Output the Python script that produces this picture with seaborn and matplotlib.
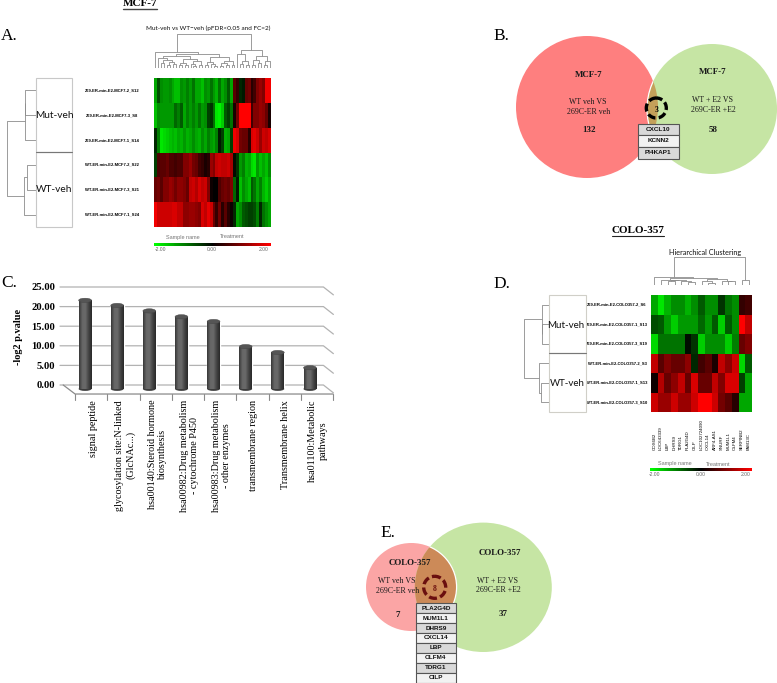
import numpy as np
import pandas as pd
import seaborn as sns
import matplotlib
matplotlib.use("Agg")
import matplotlib.pyplot as plt
from matplotlib.colors import LinearSegmentedColormap
from matplotlib.patches import Circle, Ellipse, Rectangle
from matplotlib.transforms import ScaledTranslation

W, H = 777, 683
SERIF = "Liberation Serif"
SANS = "Liberation Sans"

# panel A
rows_a = ["269-ER-min-E2-MCF7-2_S12", "269-ER-min-E2-MCF7-3_S8", "269-ER-min-E2-MCF7-1_S14",
          "WT-ER-min-E2-MCF7-2_S22", "WT-ER-min-E2-MCF7-3_S21", "WT-ER-min-E2-MCF7-1_S24"]
a1 = [-1.3, -0.6, -1.1, -1.2, -1.2, -1.1, -1.3, -1.5, -1.5, -1.1, -1.2, -1.0, -1.2, -0.9, -1.3, -1.3, -1.5, -1.1, -1.2, -0.9,
      -1.2, -1.4, -0.9, -1.3, -1.1, -0.7, -1.3, 0.7, 0.4, -0.3, -0.2, 0.8, 0.9, 0.3, 0.5, 1.0, 1.2, 1.0, 1.9, 1.9]
a2 = [-1.5, -1.1, -1.2, -1.2, -1.2, -1.2, -1.2, -0.8, -1.0, -0.7, -1.3, -1.0, -1.2, -1.0, -1.2, -0.9, -1.2, -1.1, -0.5, -0.4,
      -0.9, -1.8, -1.9, -1.6, -0.7, -0.5, -0.9, 0.2, 0.9, 2.0, 2.0, 2.0, 2.0, 0.5, 1.0, 1.0, 1.2, 1.1, 0.8, 0.2]
a3 = [-0.3, -1.0, -1.8, -1.7, -1.6, -1.5, -1.4, -1.5, -1.3, -1.4, -1.2, -1.4, -1.3, -1.1, -1.3, -1.4, -1.1, -1.3, -1.0, -1.2,
      -1.3, -1.0, -0.2, -0.5, -1.4, -1.3, -0.5, 1.9, 1.7, 0.9, 0.8, 0.8, 0.3, 1.7, 1.8, 1.6, 1.2, 1.6, 1.5, 1.7]
a4 = [-0.5, 0.6, 0.7, 0.7, 0.8, 0.6, 0.6, 0.5, 0.6, 0.6, 1.0, 1.0, 1.2, 0.9, 0.8, 0.5, 0.4, 0.2, 0.3, 1.2,
      1.0, 1.5, 1.6, 1.5, 1.5, 1.6, 1.3, -0.1, -0.4, -1.2, -1.0, -1.4, -1.3, -1.7, -1.8, -1.2, -1.5, -1.3, -1.5, -1.1]
a5 = [0.8, 0.9, 0.7, 1.0, 1.0, 1.2, 1.1, 0.9, 1.1, 1.1, 1.0, 0.8, 1.5, 1.6, 1.4, 1.7, 1.5, 1.6, 1.0, 0.1,
      0.0, 0.0, 0.6, 0.8, 0.9, 0.8, 1.0, -0.8, -0.2, -1.5, -1.1, -1.3, -1.5, -0.7, -0.9, -1.3, -1.0, -1.4, -1.6, -1.3]
a6 = [1.9, 1.6, 1.6, 1.6, 1.6, 1.6, 1.7, 1.7, 1.5, 1.5, 1.1, 1.1, 1.2, 1.2, 1.1, 1.0, 1.7, 1.5, 1.8, 1.6,
      0.8, 0.4, 0.9, 0.3, 0.7, 0.3, 0.1, -0.3, -1.3, -1.1, -0.7, -0.6, -0.5, -0.5, -0.6, -1.0, -0.3, -0.9, -1.1, -1.3]
# trees are [height, left, right], 0 is a leaf
top_tree_a = [1.0,
              [.47, 0, [.42, [.36, [.30, 0, [.24, [.14, 0, 0], [.18, [.10, 0, 0], [.12, 0, 0]]]],
                              [.26, [.16, [.08, 0, 0], [.10, 0, 0]], [.20, [.12, 0, [.06, 0, 0]], [.09, 0, 0]]]],
                        [.32, [.18, [.10, 0, 0], [.12, 0, [.05, 0, 0]]], [.22, [.14, [.07, 0, 0], [.08, 0, 0]], [.10, 0, 0]]]]],
              [.52, [.40, 0, [.22, [.12, 0, 0], [.10, 0, 0]]],
               [.36, [.24, [.10, 0, 0], [.14, 0, 0]], [.20, [.09, 0, 0], 0]]]]
left_tree_a = [1.0, [.38, [.37, 0, 0], 0], [.41, [.31, 0, 0], 0]]

# panel B and E
genes_b = ["CXCL10", "KCNN2", "PI4KAP1"]
genes_e = ["PLA2G4D", "MUM1L1", "DHRS9", "CXCL14", "LBP", "OLFM4", "TDRG1", "CILP"]

# panel C
terms_c = ["signal peptide", "glycosylation site:N-linked\n(GlcNAc...)", "hsa00140:Steroid hormone\nbiosynthesis",
           "hsa00982:Drug metabolism\n- cytochrome P450", "hsa00983:Drug metabolism\n- other enzymes",
           "transmembrane region", "Transmembrane helix", "hsa01100:Metabolic\npathways"]
values_c = [22.6, 21.3, 19.9, 18.4, 17.2, 10.8, 9.3, 5.4]
ticks_c = [0, 5, 10, 15, 20, 25]

# panel D
rows_d = ["269-ER-min-E2-COLO357-2_S6", "269-ER-min-E2-COLO357-1_S13", "269-ER-min-E2-COLO357-3_S19",
          "WT-ER-min-E2-COLO357-2_S3", "WT-ER-min-E2-COLO357-1_S13", "WT-ER-min-E2-COLO357-3_S10"]
cols_d = ["COX6B2", "LOC643339", "LBP", "DHRS9", "TDRG1", "PLA2G4D", "CILP", "LOC102724090", "CXCL14", "ARF4-AS1",
          "SNURF", "MUM1L1", "OLFM4", "SERPINB2", "FAM13C"]
d1 = [-1.3, -1.8, -1.4, -1.1, -1.1, -1.4, -1.1, -0.7, -1.1, -1.1, -0.4, -0.9, -1.1, 0.4, 0.5]
d2 = [-0.6, -0.7, -1.2, -1.6, -1.2, -1.2, -1.2, -0.8, -1.2, -0.7, -1.6, -0.7, -1.1, 2.0, 1.5]
d3 = [-1.7, -0.9, -0.9, -0.9, -0.9, -0.1, -0.4, -1.6, -1.1, -1.1, -1.1, -1.6, -1.0, 0.8, 1.0]
d4 = [1.5, 0.7, 1.0, 0.8, 0.8, 1.1, -0.3, 0.5, 0.7, 0.2, 1.5, 1.1, 1.6, -1.7, -0.7]
d5 = [0.1, 1.4, 0.8, 1.1, 1.5, 0.8, 1.7, 0.8, 0.8, 1.5, 1.0, 1.7, 1.7, -0.5, -1.3]
d6 = [1.6, 1.2, 1.2, 1.6, 1.2, 1.2, 1.6, 2.0, 2.0, 1.6, 0.9, 0.7, 0.3, -1.3, -1.3]
top_tree_d = [1.0,
              [.27, 0, [.24, [.19, 0, [.17, [.13, 0, 0], [.14, 0, [.09, 0, 0]]]],
                        [.20, [.14, 0, [.08, 0, 0]], [.16, 0, [.13, 0, 0]]]]],
              [.18, 0, 0]]
left_tree_d = [1.0, [.28, 0, [.27, 0, 0]], [.38, 0, [.30, 0, 0]]]

sns.set_theme(style="white")
plt.rcParams["font.family"] = [SANS, "DejaVu Sans"]
fig = plt.figure(figsize=(W / 100, H / 100), dpi=100)
cmap = LinearSegmentedColormap.from_list("gbr", ["#00ff00", "#000000", "#ff0000"])


def px_axes(x0, y0, x1, y1):
    return fig.add_axes([x0 / W, 1 - y1 / H, (x1 - x0) / W, (y1 - y0) / H])


def draw_tree(ax, node, leaves, vertical):
    # walks the nested list, returns position and height of the node
    if node == 0:
        pos = next(leaves) + 0.5
        return pos, 0
    p1, h1 = draw_tree(ax, node[1], leaves, vertical)
    p2, h2 = draw_tree(ax, node[2], leaves, vertical)
    h = node[0]
    a, b = [p1, p1, p2, p2], [h1, h, h, h2]
    ax.plot(*((a, b) if vertical else (b, a)), color="#8c8c8c", lw=0.6, solid_capstyle="butt")
    return (p1 + p2) / 2, h


def heat_panel(rows, data, box, top_box, left_box, top_tree, left_tree, pad, xlabels=None):
    ax = px_axes(*box)
    df = pd.DataFrame(data, index=rows)
    sns.heatmap(df, ax=ax, cmap=cmap, vmin=-2, vmax=2, xticklabels=xlabels if xlabels else False, yticklabels=True, cbar=False)
    ax.tick_params(axis="y", length=0, pad=pad, labelsize=3, rotation=0, labelcolor="black")
    for t in ax.get_yticklabels():
        t.set_ha("center")
        t.set_fontweight("bold")
    if xlabels:
        ax.tick_params(axis="x", length=0, pad=27, labelsize=3.2, rotation=90, labelcolor="black")
        for t in ax.get_xticklabels():
            t.set_va("bottom")
    t_ax = px_axes(*top_box)
    draw_tree(t_ax, top_tree, iter(range(df.shape[1])), True)
    t_ax.set_xlim(0, df.shape[1])
    t_ax.set_ylim(0, 1)
    t_ax.axis("off")
    l_ax = px_axes(*left_box)
    draw_tree(l_ax, left_tree, iter(range(6)), False)
    l_ax.set_xlim(1, 0)
    l_ax.set_ylim(6, 0)
    l_ax.axis("off")


def color_bar(x0, x1, labels_x, head_x, y, head_y):
    c_ax = px_axes(x0, y, x1, y + 3)
    sns.heatmap(np.linspace(-2, 2, 120).reshape(1, -1), ax=c_ax, cmap=cmap, vmin=-2, vmax=2, cbar=False,
                xticklabels=False, yticklabels=False)
    for lx, s in zip(labels_x, ["-2.00", "0.00", "2.00"]):
        ov.text(lx, y + 6.5, s, fontsize=3.6, color="#666666", ha="center", va="center")
    for hx, s in zip(head_x, ["Sample name", "Treatment"]):
        ov.text(hx, head_y, s, fontsize=4, color="#777777", ha="center", va="center")


def venn(red, green, overlap, red_color, ring, ring_color, count, genes, gbox, white_on):
    e_r = Ellipse(red[:2], red[2] * 2, red[3] * 2, fc=red_color, ec="none", zorder=2)
    e_g = Ellipse(green[:2], green[2] * 2, green[3] * 2, fc="#c6e5a4", ec="none", zorder=3)
    ov.add_patch(e_r)
    ov.add_patch(e_g)
    e_o = Ellipse(red[:2], red[2] * 2, red[3] * 2, fc=overlap, ec="none", zorder=4)
    ov.add_patch(e_o)
    e_o.set_clip_path(e_g)
    if white_on == "red":
        e_w = Ellipse(red[:2], red[2] * 2, red[3] * 2, fc="none", ec="white", lw=0.9, zorder=5)
        ov.add_patch(e_w)
        e_w.set_clip_path(e_g)
    else:
        e_w = Ellipse(green[:2], green[2] * 2, green[3] * 2, fc="none", ec="white", lw=0.9, zorder=5)
        ov.add_patch(e_w)
        e_w.set_clip_path(e_r)
    ov.add_patch(Circle(ring[:2], ring[2], fill=False, ec=ring_color, lw=2.4, ls=(0.5, (2.4, 1.0)), zorder=6))
    ov.text(ring[0], ring[1] + 1.5, count, family=SERIF, fontweight="bold", fontsize=5.5, color=ring_color,
            ha="center", va="center", zorder=7)
    x0, x1, y0, y1 = gbox
    h = (y1 - y0) / len(genes)
    for i, g in enumerate(genes):
        fc = "#d9d9d9" if i % 2 == 0 else "#f2f2f2"
        ov.add_patch(Rectangle((x0, y0 + i * h), x1 - x0, h, fc=fc, ec="#555555", lw=0.8, zorder=8))
        ov.text((x0 + x1) / 2, y0 + (i + 0.5) * h, g, fontsize=4.6, fontweight="bold", color="#111111",
                ha="center", va="center", zorder=9)


def stext(x, y, s, size=5.7, bold=False, color="#1a1a1a", ha="center"):
    ov.text(x, y, s, family=SERIF, fontsize=size, fontweight="bold" if bold else "normal", color=color,
            ha=ha, va="center", zorder=10)


ov = fig.add_axes([0, 0, 1, 1], zorder=5)
ov.set_xlim(0, W)
ov.set_ylim(H, 0)
ov.axis("off")
ov.patch.set_alpha(0)

# A
heat_panel(rows_a, [a1, a2, a3, a4, a5, a6], (154, 78, 271, 227), (154, 34, 271, 68), (7, 78, 36, 227),
           top_tree_a, left_tree_a, 30)
color_bar(154, 271, [161, 212, 264], [183, 232], 243, 237)
ov.text(208, 28, "Mut-veh vs WT\u2212veh (pFDR<0.05 and FC=2)", family="Lato", fontsize=4.6, ha="center", va="center", color="#111111")
for y0, y1 in [(78, 152), (152, 227)]:
    ov.add_patch(Rectangle((36, y0), 36, y1 - y0, fill=False, ec="#c8c8c8", lw=0.8))
ov.plot([36, 72], [152, 152], color="#777777", lw=0.8)
ov.text(54, 115, "Mut-veh", family="Lato", fontsize=7.3, ha="center", va="center", color="#111111")
ov.text(54, 189, "WT-veh", family="Lato", fontsize=7.3, ha="center", va="center", color="#111111")
stext(140, 3.5, "MCF-7", 8, True, "black")
ov.plot([123, 157], [9, 9], color="#444444", lw=1)
stext(1, 36, "A.", 12.5, False, "black", "left")

# B
venn((587, 107, 71, 71), (712, 109, 65, 65), "#c4a05a", "#fe7f7f", (656.3, 108, 10), "black", "3", genes_b,
     (637.5, 678.5, 123.5, 158.5), "green")
stext(493, 36, "B.", 12.5, False, "black", "left")
for x, y, s, b in [(589, 75, "MCF-7", True), (588, 102, "WT veh VS", False), (589, 112, "269C-ER veh", False), (589, 130, "132", True),
                   (713, 72, "MCF-7", True), (712, 100, "WT + E2 VS", False), (713, 110, "269C-ER +E2", False), (713, 130, "58", True)]:
    stext(x, y, s, 6.4 if b else 5.7, b)

# C
ax_c = px_axes(69, 287, 326, 394.8)
df_c = pd.DataFrame({"term": terms_c, "value": values_c})
depth = -1.0
sns.barplot(data=df_c, x="term", y="value", ax=ax_c, color="#555555", width=0.4, bottom=depth, saturation=1, zorder=3)
shade = LinearSegmentedColormap.from_list("cyl", ["#383838", "#666666", "#6a6a6a", "#444444", "#2a2a2a"])
for p in ax_c.patches:
    x0, y0, pw, ph = p.get_x(), p.get_y(), p.get_width(), p.get_height()
    ax_c.add_patch(Ellipse((x0 + pw / 2, y0), pw, 1.0, fc="#3c3c3c", ec="none", zorder=3, clip_on=False))
    im = ax_c.imshow(np.linspace(0, 1, 40).reshape(1, -1), cmap=shade, aspect="auto", extent=(x0, x0 + pw, y0, y0 + ph), zorder=4)
    im.set_clip_path(p)
    ax_c.add_patch(Ellipse((x0 + pw / 2, y0 + ph), pw, 1.1, fc="#555555", ec="#444444", lw=0.3, zorder=5, clip_on=False))
ax_c.set_xlim(-0.5, 7.5)
ax_c.set_ylim(-2.5, 25)
ax_c.set_frame_on(False)
ax_c.set_yticks(ticks_c)
ax_c.set_yticklabels(["%.2f" % t for t in ticks_c], family=SERIF, fontweight="bold", fontsize=7.6, color="black")
ax_c.tick_params(axis="y", length=0, pad=10)
ax_c.set_xlabel("")
ax_c.set_ylabel("-log2 p.value", family=SERIF, fontweight="bold", fontsize=7.4, color="black")
ax_c.yaxis.set_label_coords((23 - 69) / 257, (394.8 - 337) / 107.8)
ax_c.tick_params(axis="x", length=0, pad=3.6)
ax_c.set_xticks(range(len(terms_c)))
ax_c.set_xticklabels(terms_c, rotation=90, family=SERIF, fontsize=7.3, color="black", ha="center", va="top", linespacing=1.2)
off = ScaledTranslation(8 / 100, 0, fig.dpi_scale_trans)
for t in ax_c.get_xticklabels():
    t.set_transform(t.get_transform() + off)
# back wall, side wall and floor of the 3D frame
for t in ticks_c:
    ax_c.plot([-0.78, 7.42, 7.73], [t, t, t - 2], color="#b2b2b2", lw=0.9, clip_on=False, zorder=1)
ax_c.plot([-0.68, -0.31, 7.72], [0, -2.3, -2.3], color="#8a8a8a", lw=0.9, clip_on=False, zorder=2)
for i in range(9):
    ax_c.plot([-0.31 + i * 1.004] * 2, [-2.3, -3.8], color="#8a8a8a", lw=0.8, clip_on=False, zorder=2)
stext(1, 283, "C.", 12.5, False, "black", "left")

# D
heat_panel(rows_d, [d1, d2, d3, d4, d5, d6], (651, 295, 752, 412), (651, 257, 752, 285), (523.5, 295, 548.7, 412),
           top_tree_d, left_tree_d, 24.5, cols_d)
color_bar(650, 752, [655, 700.7, 746], [675, 718], 468, 464)
for y0, y1 in [(295, 353), (353, 412)]:
    ov.add_patch(Rectangle((548.7, y0), 37, y1 - y0, fill=False, ec="#d0cfc8", lw=0.8))
ov.plot([548.7, 585.7], [353, 353], color="#777777", lw=0.8)
ov.text(566, 325, "Mut-veh", family="Lato", fontsize=7, ha="center", va="center", color="#111111")
ov.text(567, 383, "WT-veh", family="Lato", fontsize=7, ha="center", va="center", color="#111111")
ov.text(705, 252, "Hierarchical Clustering", family="Lato", fontsize=5.2, ha="center", va="center", color="#111111")
stext(638, 230.5, "COLO-357", 8, True, "black")
ov.plot([612, 664], [235.5, 235.5], color="#222222", lw=0.8)
stext(493, 284, "D.", 12.5, False, "black", "left")

# E
venn((411.3, 587, 45.3, 44), (483.3, 587.3, 68.5, 64.7), "#cc8a58", "#fba5a5", (434.7, 587.3, 11), "#6a0f0f", "8", genes_e,
     (415.7, 456, 603.3, 682.5), "red")
stext(380, 533, "E.", 12.5, False, "black", "left")
for x, y, s, b in [(409.7, 562.7, "COLO-357", True), (396.7, 581.3, "WT veh VS", False), (397.7, 591, "269C-ER veh", False), (397.7, 615, "7", True),
                   (500.3, 553.3, "COLO-357", True), (497.7, 581, "WT + E2 VS", False), (498.3, 590.3, "269C-ER +E2", False), (502.7, 614.3, "37", True)]:
    stext(x, y, s, 6.4 if b else 5.7, b)

fig.savefig("out.png", dpi=100, facecolor="white")
